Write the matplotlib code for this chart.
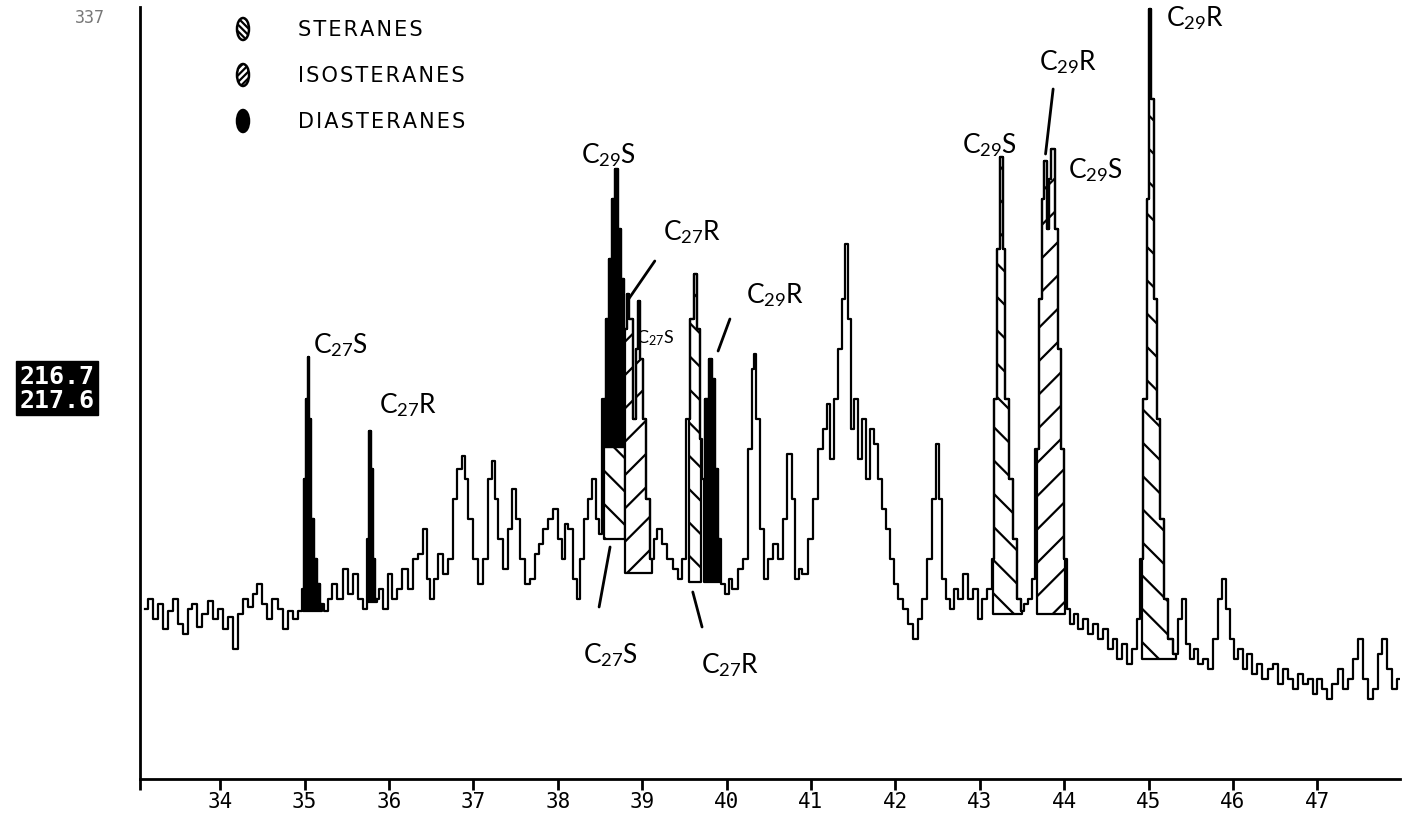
import numpy as np
import matplotlib
matplotlib.use("Agg")
import matplotlib.pyplot as plt
from matplotlib.patches import Ellipse

plt.rcParams['hatch.linewidth'] = 1.6
plt.rcParams['mathtext.fontset'] = 'custom'
plt.rcParams['mathtext.rm'] = 'Lato'
plt.rcParams['mathtext.it'] = 'Lato:italic'

# m/z 217 mass chromatogram: retention time (min) and abundance
rt = [33.11, 33.17, 33.23, 33.29, 33.35, 33.41, 33.47, 33.53, 33.59, 33.64,
      33.70, 33.76, 33.82, 33.88, 33.94, 34.00, 34.06, 34.12, 34.18, 34.24,
      34.30, 34.36, 34.41, 34.47, 34.53, 34.59, 34.65, 34.71, 34.77, 34.83,
      34.89, 34.95, 34.98, 35.01, 35.03, 35.04, 35.07, 35.09, 35.13, 35.16,
      35.21, 35.26, 35.30, 35.36, 35.42, 35.48, 35.54, 35.60, 35.66, 35.72,
      35.75, 35.78, 35.80, 35.82, 35.86, 35.90, 35.96, 36.01, 36.07, 36.13,
      36.19, 36.25, 36.31, 36.37, 36.43, 36.46, 36.51, 36.56, 36.61, 36.67,
      36.73, 36.78, 36.84, 36.88, 36.92, 36.96, 37.02, 37.08, 37.14, 37.20,
      37.24, 37.27, 37.32, 37.38, 37.44, 37.48, 37.53, 37.58, 37.64, 37.70,
      37.76, 37.79, 37.85, 37.91, 37.97, 38.03, 38.06, 38.10, 38.15, 38.21,
      38.24, 38.29, 38.33, 38.38, 38.43, 38.47, 38.50, 38.55, 38.59, 38.62,
      38.66, 38.69, 38.73, 38.76, 38.80, 38.83, 38.87, 38.91, 38.94, 38.96,
      38.99, 39.02, 39.07, 39.12, 39.15, 39.21, 39.27, 39.33, 39.39, 39.45,
      39.50, 39.55, 39.59, 39.63, 39.66, 39.70, 39.73, 39.77, 39.81, 39.84,
      39.88, 39.92, 39.96, 40.01, 40.04, 40.10, 40.16, 40.22, 40.28, 40.32,
      40.34, 40.37, 40.42, 40.47, 40.52, 40.58, 40.64, 40.69, 40.75, 40.79,
      40.84, 40.87, 40.93, 40.99, 41.05, 41.11, 41.17, 41.20, 41.25, 41.30,
      41.35, 41.38, 41.42, 41.45, 41.49, 41.54, 41.58, 41.63, 41.68, 41.73,
      41.77, 41.82, 41.87, 41.91, 41.96, 42.01, 42.06, 42.12, 42.18, 42.24,
      42.29, 42.35, 42.41, 42.46, 42.50, 42.53, 42.58, 42.63, 42.67, 42.72,
      42.77, 42.83, 42.89, 42.95, 43.00, 43.06, 43.12, 43.16, 43.19, 43.23,
      43.25, 43.29, 43.32, 43.37, 43.42, 43.47, 43.50, 43.55, 43.60, 43.64,
      43.68, 43.72, 43.75, 43.78, 43.81, 43.83, 43.87, 43.91, 43.94, 43.98,
      44.01, 44.05, 44.09, 44.14, 44.19, 44.25, 44.31, 44.37, 44.43, 44.49,
      44.55, 44.60, 44.66, 44.72, 44.78, 44.84, 44.89, 44.92, 44.96, 45.00,
      45.02, 45.04, 45.08, 45.11, 45.16, 45.21, 45.26, 45.32, 45.37, 45.42,
      45.47, 45.52, 45.56, 45.61, 45.67, 45.73, 45.79, 45.85, 45.90, 45.94,
      45.99, 46.04, 46.09, 46.14, 46.20, 46.26, 46.32, 46.38, 46.44, 46.50,
      46.56, 46.62, 46.68, 46.74, 46.80, 46.86, 46.92, 46.97, 47.03, 47.09,
      47.15, 47.21, 47.27, 47.33, 47.39, 47.45, 47.51, 47.57, 47.63, 47.69,
      47.74, 47.80, 47.86, 47.92, 47.98]
abund = [170, 180, 160, 175, 150, 168, 180, 155, 145, 170,
         175, 152, 165, 178, 160, 170, 150, 162, 130, 165,
         180, 172, 185, 195, 175, 160, 180, 170, 150, 168,
         160, 168, 190, 300, 380, 422, 360, 260, 220, 195,
         175, 168, 180, 195, 180, 210, 185, 205, 180, 170,
         240, 348, 310, 220, 180, 190, 170, 205, 180, 190,
         210, 190, 220, 225, 250, 200, 180, 200, 225, 205,
         220, 280, 310, 323, 300, 260, 220, 195, 220, 300,
         318, 280, 240, 210, 250, 290, 260, 220, 195, 200,
         225, 235, 250, 260, 270, 240, 220, 255, 250, 200,
         180, 220, 260, 280, 300, 260, 245, 380, 460, 520,
         580, 610, 550, 500, 450, 485, 460, 360, 430, 478,
         420, 360, 280, 220, 240, 250, 235, 220, 210, 200,
         220, 360, 460, 505, 450, 340, 300, 380, 420, 400,
         310, 240, 195, 185, 200, 190, 210, 220, 330, 410,
         425, 360, 250, 200, 220, 235, 220, 260, 325, 280,
         200, 210, 205, 240, 280, 330, 350, 375, 320, 380,
         430, 480, 535, 460, 350, 380, 320, 360, 300, 350,
         335, 300, 270, 250, 220, 195, 180, 170, 155, 140,
         160, 180, 220, 280, 335, 280, 200, 180, 170, 190,
         180, 205, 180, 190, 160, 180, 190, 220, 380, 530,
         622, 530, 380, 300, 240, 180, 168, 175, 180, 200,
         330, 480, 580, 618, 550, 600, 630, 550, 430, 330,
         220, 170, 155, 165, 150, 160, 145, 155, 140, 150,
         130, 140, 120, 135, 115, 130, 160, 220, 380, 580,
         770, 680, 480, 360, 260, 180, 140, 125, 160, 180,
         135, 120, 130, 115, 120, 110, 140, 180, 200, 170,
         140, 120, 130, 110, 125, 105, 115, 100, 110, 115,
         95, 110, 100, 90, 105, 95, 100, 85, 100, 90,
         80, 95, 110, 90, 100, 120, 140, 100, 80, 90,
         125, 140, 110, 90, 100]

# shaded peaks: start, end, floor, ceiling, compound class
peak_start = [34.96, 35.73, 38.52, 38.54, 38.79, 39.52, 39.72, 43.15, 43.65, 44.92]
peak_end = [35.22, 35.87, 38.81, 38.81, 39.13, 39.72, 39.95, 43.50, 44.02, 45.33]
peak_floor = [168, 177, 240, 332, 206, 197, 197, 165, 165, 120]
peak_ceiling = [None, None, 332, None, None, None, None, None, None, None]
peak_class = ['dia', 'dia', 'ster', 'dia', 'iso', 'ster', 'dia', 'ster', 'iso', 'ster']

legend_names = ['STERANES', 'ISOSTERANES', 'DIASTERANES']
legend_class = ['ster', 'iso', 'dia']

ticks = list(range(34, 48))

# hand-written peak labels: text, (rt, abundance), font size, leader line or None
labels = [
    (r'C$_{27}$S', (35.42, 435), 19, None),
    (r'C$_{27}$R', (36.23, 375), 19, None),
    (r'C$_{29}$S', (38.60, 625), 19, None),
    (r'C$_{27}$R', (39.59, 548), 19, ((39.15, 518), (38.84, 480))),
    (r'C$_{27}$S', (39.15, 442), 13, None),
    (r'C$_{29}$R', (40.58, 485), 19, ((40.04, 460), (39.90, 428))),
    (r'C$_{27}$S', (38.62, 125), 19, ((38.62, 232), (38.49, 172))),
    (r'C$_{27}$R', (40.04, 115), 19, ((39.60, 187), (39.71, 152))),
    (r'C$_{29}$S', (43.12, 635), 19, None),
    (r'C$_{29}$R', (44.05, 718), 19, ((43.87, 690), (43.78, 625))),
    (r'C$_{29}$S', (44.37, 610), 19, None),
    (r'C$_{29}$R', (45.55, 762), 19, None),
]

style = {
    'dia': dict(facecolor='black', hatch=None),
    'ster': dict(facecolor='white', hatch='\\'),
    'iso': dict(facecolor='white', hatch='/'),
}
# the legend lozenges are tiny, so they get a tighter hatch
key_style = {
    'dia': dict(facecolor='black', hatch=None),
    'ster': dict(facecolor='white', hatch='\\\\\\\\\\'),
    'iso': dict(facecolor='white', hatch='/////'),
}

t = np.array(rt)
a = np.array(abund, dtype=float)

fig = plt.figure(figsize=(14.05, 8.2), dpi=100)
ax = fig.add_axes([140 / 1405, 1 - 780 / 820, 1260 / 1405, 772 / 820])

for t0, t1, lo, hi, kind in zip(peak_start, peak_end, peak_floor, peak_ceiling, peak_class):
    sel = (t >= t0) & (t <= t1)
    top = a if hi is None else np.minimum(a, hi)
    ax.fill_between(t, lo, top, where=sel & (top > lo), step='mid',
                    edgecolor='black', linewidth=1.6, zorder=2, **style[kind])

ax.plot(t, a, color='black', lw=1.6, drawstyle='steps-mid', zorder=3)

ax.set_xlim(33.05, 47.98)
ax.set_ylim(0, 772)
for side in ['top', 'right']:
    ax.spines[side].set_visible(False)
ax.spines['left'].set_linewidth(2)
ax.spines['bottom'].set_linewidth(2)
ax.set_yticks([])
ax.set_xticks([33.05] + ticks)
ax.set_xticklabels([''] + [str(v) for v in ticks], family='DejaVu Sans Mono', fontsize=15)
ax.tick_params(axis='x', direction='out', length=8, width=2, pad=1)

for text, (x, y), fs, leader in labels:
    ax.text(x, y, text, family='Lato', fontsize=fs, ha='center', va='center', zorder=5)
    if leader is not None:
        (x0, y0), (x1, y1) = leader
        ax.plot([x0, x1], [y0, y1], color='black', lw=2, solid_capstyle='round', zorder=5)

# legend drawn as little lozenges beside the class names
for i, (name, kind) in enumerate(zip(legend_names, legend_class)):
    yc = 1 - (30 + 46 * i) / 820
    ell = Ellipse((243 / 1405, yc), 12 / 1405, 22 / 820, transform=fig.transFigure,
                  edgecolor='black', linewidth=1.8, **key_style[kind])
    fig.add_artist(ell)
    fig.text(298 / 1405, yc, '\u200a'.join(name), family='DejaVu Sans', fontsize=15,
             va='center', ha='left')

fig.text(105 / 1405, 1 - 18 / 820, '337', family='DejaVu Sans Mono', fontsize=12,
         color='#777777', ha='right', va='center')
fig.text(57 / 1405, 1 - 389 / 820, '216.7\n217.6', family='DejaVu Sans Mono',
         fontsize=18, fontweight='bold', color='white', ha='center', va='center',
         linespacing=0.95,
         bbox=dict(facecolor='black', edgecolor='black', boxstyle='square,pad=0.15'))

fig.savefig('out.png', dpi=100)
